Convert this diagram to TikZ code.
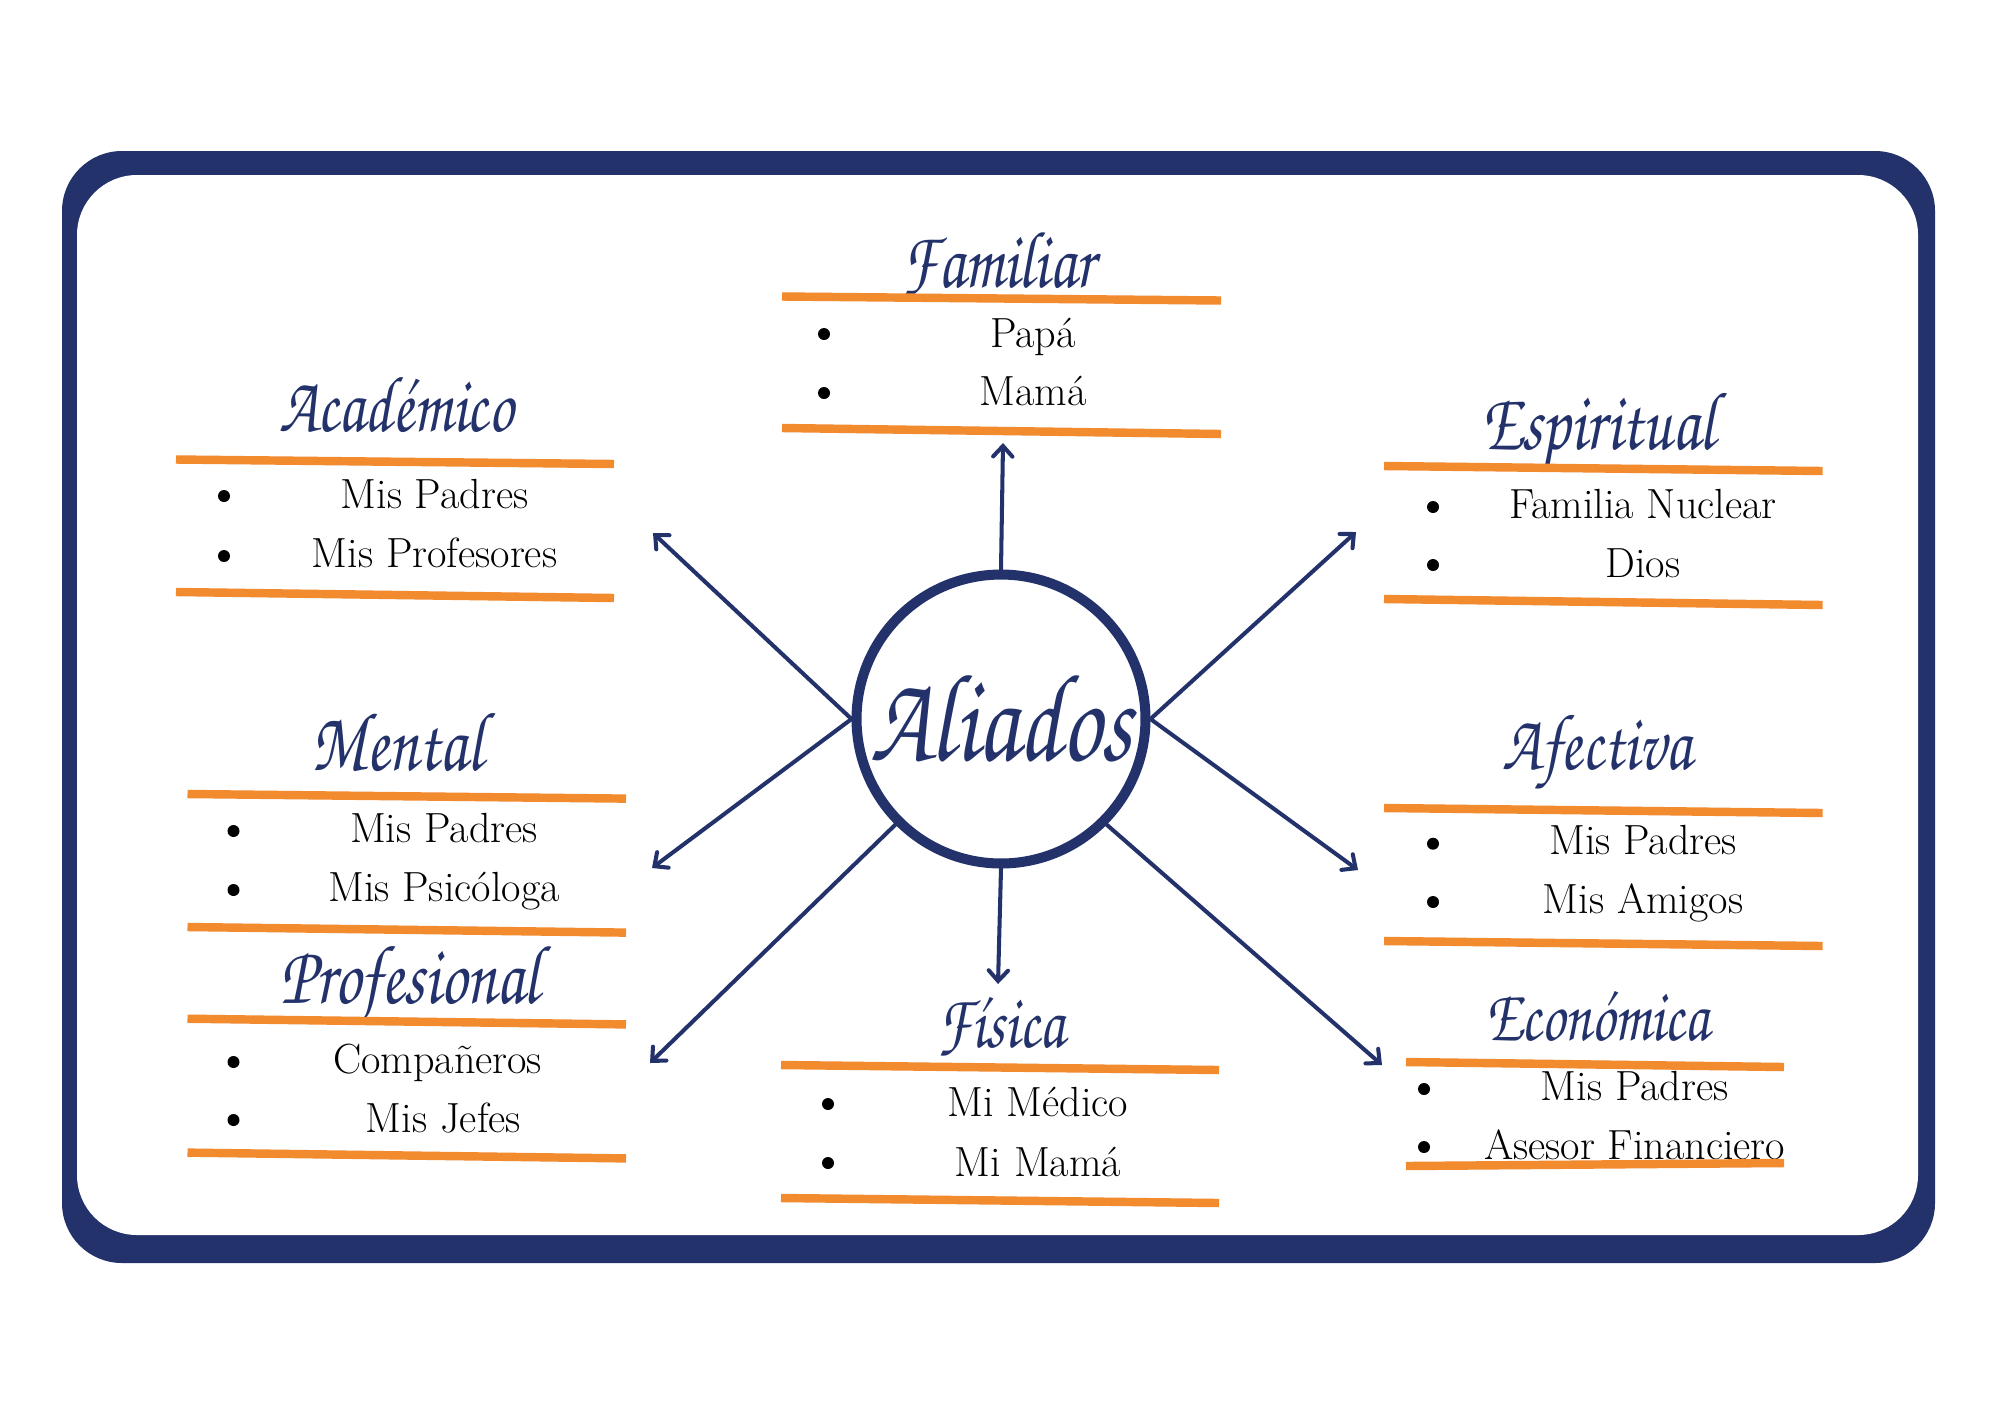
\documentclass[tikz,border=0pt]{standalone}
\usepackage{fontspec}
\usetikzlibrary{arrows.meta}
\newfontfamily\scriptf{TeX Gyre Chorus}
\definecolor{navy}{HTML}{23326A}
\definecolor{orng}{HTML}{F28A2E}
\newcommand\mkttl[2]{\scalebox{1}[1.28]{\resizebox{#1}{!}{\scriptf #2}}}
\tikzset{
  ttl/.style={text=navy, anchor=base, inner sep=0pt},
  item/.style={anchor=base, inner sep=0pt, text=black, font=\fontsize{24}{28}\selectfont},
  blt/.style={circle, fill=black, inner sep=0pt, minimum size=0.24cm},
  oline/.style={draw=orng, line width=4.8pt},
  conn/.style={draw=navy, line width=2.3pt, line cap=round, -{Straight Barb[length=6pt,width=11pt,line cap=round]}}
}
\begin{document}
\begin{tikzpicture}[x=0.02cm, y=-0.02cm]
\fill[white] (0,0) rectangle (2000,1414);
\useasboundingbox (0,0) rectangle (2000,1414);
% frame
\fill[navy, rounded corners=1.2cm] (62,151) rectangle (1935,1263);
\fill[white, rounded corners=1.2cm] (77,175) rectangle (1918,1235);

% centre
\node[circle, draw=navy, line width=5.7pt, minimum size=5.78cm, inner sep=0pt, text=navy] (c) at (1001,719) {\mkttl{5.24cm}{Aliados}};

% Familiar
\node[ttl] (tfam) at (998,287) {\mkttl{3.86cm}{Familiar}};
\draw[oline] (782,296.5) -- (1221,300.5);
\node[blt] (bfam1) at (824,334) {};
\node[blt] (bfam2) at (824,393) {};
\node[item] (fam1) at (1033,347) {Papá};
\node[item] (fam2) at (1033,405) {Mamá};
\draw[oline] (782,428) -- (1221,434);

% Académico
\node[ttl] (taca) at (396,431) {\mkttl{4.68cm}{Académico}};
\draw[oline] (176,459.5) -- (614,464);
\node[blt] (baca1) at (224,496) {};
\node[blt] (baca2) at (224,556) {};
\node[item] (aca1) at (434.5,508.6) {Mis Padres};
\node[item] (aca2) at (434.5,567) {Mis Profesores};
\draw[oline] (176,592) -- (614,598);

% Mental
\node[ttl] (tmen) at (397,770) {\mkttl{3.44cm}{Mental}};
\draw[oline] (187.5,794) -- (626,798.6);
\node[blt] (bmen1) at (233.5,831) {};
\node[blt] (bmen2) at (233.5,890) {};
\node[item] (men1) at (444,842.6) {Mis Padres};
\node[item] (men2) at (444,901) {Mis Psicóloga};
\draw[oline] (187.5,927) -- (626,932.6);

% Profesional
\node[ttl] (tpro) at (410,1003) {\mkttl{5.18cm}{Profesional}};
\draw[oline] (187.5,1018.7) -- (626,1024.4);
\node[blt] (bpro1) at (233.5,1062) {};
\node[blt] (bpro2) at (233.5,1120) {};
\node[item] (pro1) at (437.6,1073) {Compañeros};
\node[item] (pro2) at (443.4,1132.7) {Mis Jefes};
\draw[oline] (187.5,1152.6) -- (626,1158.4);

% Física
\node[ttl] (tfis) at (1001,1047) {\mkttl{2.54cm}{Física}};
\draw[oline] (781,1065) -- (1219,1070);
\node[blt] (bfis1) at (828,1104) {};
\node[blt] (bfis2) at (828,1163) {};
\node[item] (fis1) at (1038,1116.7) {Mi Médico};
\node[item] (fis2) at (1038,1176) {Mi Mamá};
\draw[oline] (781,1198) -- (1219,1203);

% Espiritual
\node[ttl] (tesp) at (1598,449.5) {\mkttl{4.68cm}{Espiritual}};
\draw[oline] (1384,466) -- (1822.6,471);
\node[blt] (besp1) at (1433,507) {};
\node[blt] (besp2) at (1433,565) {};
\node[item] (esp1) at (1643,518) {Familia Nuclear};
\node[item] (esp2) at (1643,577.7) {Dios};
\draw[oline] (1384,599) -- (1822.6,605);

% Afectiva
\node[ttl] (tafe) at (1597,769) {\mkttl{3.78cm}{Afectiva}};
\draw[oline] (1384,808) -- (1822.6,813);
\node[blt] (bafe1) at (1433,843.7) {};
\node[blt] (bafe2) at (1433,902) {};
\node[item] (afe1) at (1643,854) {Mis Padres};
\node[item] (afe2) at (1643,913) {Mis Amigos};
\draw[oline] (1384,941) -- (1822.6,946);

% Económica
\node[ttl] (teco) at (1597,1040) {\mkttl{4.48cm}{Económica}};
\draw[oline] (1406,1062) -- (1784,1067);
\node[blt] (beco1) at (1424,1089) {};
\node[blt] (beco2) at (1424,1147) {};
\node[item] (eco1) at (1634.6,1100.7) {Mis Padres};
\node[item] (eco2) at (1634.6,1159) {Asesor Financiero};
\draw[oline] (1406,1166) -- (1784,1163);

% arrow tips
\coordinate (xaca) at (653,533);
\coordinate (xmen) at (652,868);
\coordinate (xpro) at (650,1063);
\coordinate (xfam) at (1003,443);
\coordinate (xfis) at (998,984);
\coordinate (xesp) at (1356,532);
\coordinate (xafe) at (1358,870);
\coordinate (xeco) at (1382,1065);

\draw[conn] (c.180) -- (xaca);
\draw[conn] (c.180) -- (xmen);
\draw[conn] (c.225) -- (xpro);
\draw[conn] (c.90) -- (xfam);
\draw[conn] (c.270) -- (xfis);
\draw[conn] (c.0) -- (xesp);
\draw[conn] (c.0) -- (xafe);
\draw[conn] (c.315) -- (xeco);
\end{tikzpicture}
\end{document}
